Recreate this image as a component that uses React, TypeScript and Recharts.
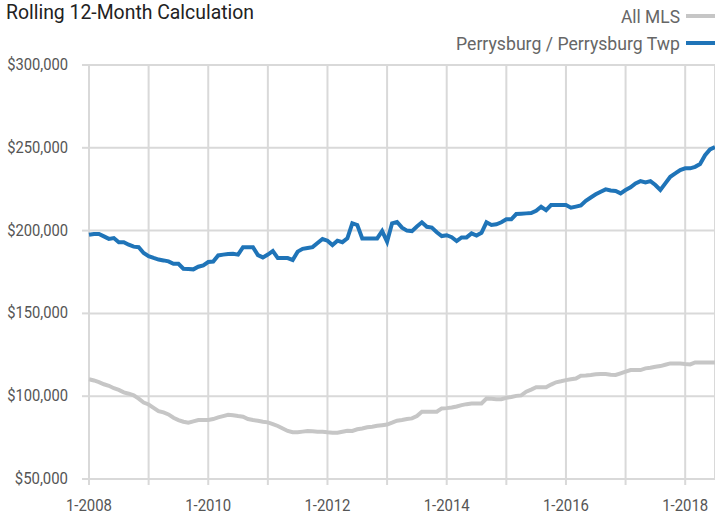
import React from 'react';
import { LineChart, Line, XAxis, YAxis, CartesianGrid } from 'recharts';

// monthly values, Jan 2008 .. Jul 2018 (thousands of $)
const perrysburg = [
  197.5, 198, 198, 196.5, 195, 195.5, 193, 193, 191.5, 190.3, 190, 186.5,
  184.6, 183.5, 182.5, 182, 181.4, 180, 180, 177, 176.8, 176.6, 178.2, 179,
  181, 181.3, 185, 185.5, 185.8, 186, 185.5, 190, 190, 190, 185.2, 183.8,
  185.5, 187.7, 183.4, 183.4, 183.4, 182.2, 187.3, 189, 189.5, 190, 192.5, 194.9,
  193.9, 191.3, 193.9, 193, 195.3, 204.4, 203.4, 195.3, 195.3, 195.3, 195.3, 199.7,
  193.3, 204.4, 205.2, 201.8, 200, 199.7, 202.5, 205, 202.3, 201.8, 199, 196.7,
  197.2, 196, 193.7, 195.9, 195.9, 198.3, 197, 198.7, 205, 203.4, 203.8, 205,
  206.8, 206.8, 210, 210.2, 210.4, 210.6, 212, 214.4, 212.4, 215.4, 215.4, 215.4,
  215.4, 213.8, 214.5, 215.2, 218, 220, 221.9, 223.5, 224.9, 224.2, 223.9, 222.5,
  224.5, 226.1, 228.5, 229.9, 229.1, 229.9, 227.5, 224.5, 228.5, 232.5, 234.5, 236.6,
  237.6, 237.6, 238.5, 240.2, 245.5, 249, 250.5,
];

const allMls = [
  110.2, 109.5, 108.5, 107.2, 106.3, 104.8, 103.8, 102.3, 101.5, 100.5, 98.5, 96.2,
  95, 93, 91, 90.2, 89, 87, 85.6, 84.6, 84, 84.8, 85.6, 85.6,
  85.6, 86.2, 87.2, 88, 88.8, 88.5, 88, 87.6, 86.2, 85.6, 85.2, 84.6,
  84.2, 83.2, 82, 80.5, 79, 78.2, 78.2, 78.6, 79, 78.8, 78.6, 78.5,
  78.2, 78, 77.9, 78.5, 79.1, 79, 80, 80.5, 81.2, 81.6, 82.1, 82.5,
  82.9, 84, 85.2, 85.6, 86.2, 86.6, 88, 90.6, 90.6, 90.6, 90.6, 92.6,
  92.8, 93.2, 93.8, 94.6, 95.2, 95.6, 95.6, 95.6, 98.6, 98.4, 98.2, 98.2,
  99, 99.5, 100.2, 100.5, 102.7, 104, 105.4, 105.4, 105.4, 107, 108.4, 109,
  109.7, 110.2, 110.7, 112.3, 112.5, 112.8, 113.2, 113.4, 113.4, 113, 112.8, 113.8,
  114.8, 115.8, 115.8, 115.8, 116.8, 117.2, 117.8, 118.2, 119, 119.8, 119.8, 119.8,
  119.4, 119.2, 120.4, 120.4, 120.4, 120.4, 120.4,
];

const yTicks = [50000, 100000, 150000, 200000, 250000, 300000];
const xTicks = [0, 12, 24, 36, 48, 60, 72, 84, 96, 108, 120];
const startYear = 2008;

const data = perrysburg.map((v, i) => ({ i, perrysburg: v * 1000, allMls: allMls[i] * 1000 }));

const FONT = "Roboto, 'Liberation Sans', sans-serif";
const GRID = '#d9d9d9';
const BLUE = '#1f74b8';
const GRAY = '#c6c6c6';
const TICK = '#555';

// y labels squeezed a little, like the condensed face of the original
const YTick = (props: any) => {
  const { x, y, payload } = props;
  const label = `$${Number(payload.value).toLocaleString('en-US')}`;
  const w = label.length * 7.6;
  return (
    <text x={x} y={y} dy={5} textAnchor="end" fill={TICK} fontSize={16} fontFamily={FONT}
      textLength={w} lengthAdjust="spacingAndGlyphs">
      {label}
    </text>
  );
};

const XTick = (props: any) => {
  const { x, y, payload } = props;
  const v = payload.value as number;
  if (v % 24 !== 0) return <g />;
  const label = `1-${startYear + v / 12}`;
  return (
    <text x={x} y={y} dy={11} textAnchor="middle" fill={TICK} fontSize={16} fontFamily={FONT}
      textLength={46} lengthAdjust="spacingAndGlyphs">
      {label}
    </text>
  );
};

const App: React.FC = () => {
  return (
    <div style={{ position: 'absolute', left: 0, top: 0, width: 715, height: 514, overflow: 'hidden', background: '#fff', fontFamily: FONT }}>
      <LineChart width={715} height={514} data={data} margin={{ top: 65, right: 0, bottom: 0, left: 0 }}>
        <CartesianGrid stroke={GRID} strokeWidth={2} />
        <XAxis
          type="number"
          dataKey="i"
          domain={[0, 126]}
          ticks={xTicks}
          height={35}
          axisLine={false}
          tickLine={{ stroke: GRID, strokeWidth: 2 }}
          tickSize={6}
          tickMargin={15}
          interval={0}
          tick={<XTick />}
        />
        <YAxis
          type="number"
          domain={[50000, 300000]}
          ticks={yTicks}
          width={89}
          axisLine={false}
          tickLine={{ stroke: GRID, strokeWidth: 2 }}
          tickSize={7}
          tickMargin={14}
          tick={<YTick />}
        />
        <Line type="linear" dataKey="allMls" stroke={GRAY} strokeWidth={4} dot={false} isAnimationActive={false} />
        <Line type="linear" dataKey="perrysburg" stroke={BLUE} strokeWidth={4} dot={false} isAnimationActive={false} />
      </LineChart>
      <svg width={715} height={60} style={{ position: 'absolute', left: 0, top: 0, pointerEvents: 'none' }}>
        <text x={6} y={19} fontSize={20} fill="#222" fontFamily={FONT} textLength={248} lengthAdjust="spacingAndGlyphs">
          Rolling 12-Month Calculation
        </text>
        <text x={680} y={23} fontSize={19} fill="#666" fontFamily={FONT} textAnchor="end" textLength={59} lengthAdjust="spacingAndGlyphs">
          All MLS
        </text>
        <line x1={686} x2={715} y1={16} y2={16} stroke={GRAY} strokeWidth={4} />
        <text x={680} y={50} fontSize={19} fill="#666" fontFamily={FONT} textAnchor="end" textLength={224} lengthAdjust="spacingAndGlyphs">
          Perrysburg / Perrysburg Twp
        </text>
        <line x1={686} x2={715} y1={43} y2={43} stroke={BLUE} strokeWidth={4} />
      </svg>
    </div>
  );
};

export default App;
